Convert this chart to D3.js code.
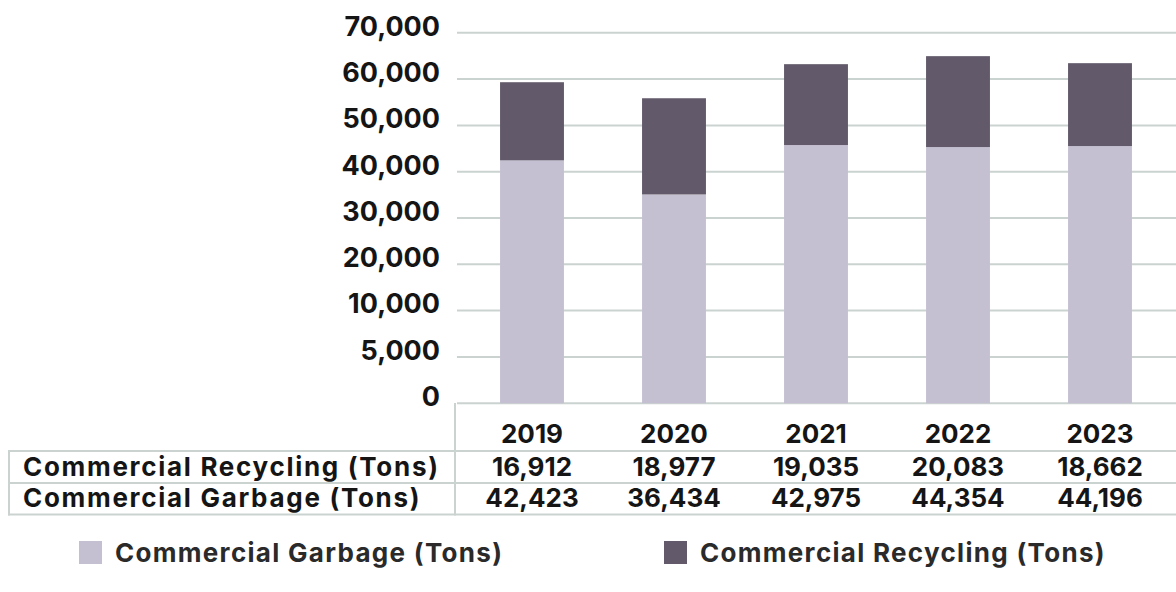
<!DOCTYPE html>
<html>
<head>
<meta charset="utf-8">
<script src="https://cdn.jsdelivr.net/npm/d3@7"></script>
<style>
  html, body { margin: 0; padding: 0; background: #ffffff; }
  svg { display: block; }
  text { font-family: Inter, "Noto Sans", sans-serif; }
</style>
</head>
<body>
<svg id="chart" width="1176" height="592"></svg>
<script>
// ---- data ----
const years = ["2019", "2020", "2021", "2022", "2023"];
// bar heights as drawn in the reference
const garbageBar   = [42446, 35087, 45758, 45325, 45541];
const recyclingBar = [16883, 20779, 17467, 19632, 17901];
// values printed in the data table
const recyclingTable = ["16,912", "18,977", "19,035", "20,083", "18,662"];
const garbageTable   = ["42,423", "36,434", "42,975", "44,354", "44,196"];
const rowLabels = ["Commercial Recycling (Tons)", "Commercial Garbage (Tons)"];
const seriesNames = ["Commercial Garbage (Tons)", "Commercial Recycling (Tons)"];
const yTickValues = [0, 5000, 10000, 20000, 30000, 40000, 50000, 60000, 70000];

// ---- styles ----
const garbageColor = "#c5bfd2";
const recyclingColor = "#625a6a";
const gridColor = "#cbd3d0";
const textColor = "#151515";

const svg = d3.select("#chart");

const x = d3.scaleBand()
  .domain(years)
  .range([461, 1171])
  .paddingInner(0.55)
  .paddingOuter(0.275);

const y = d3.scaleLinear()
  .domain([0, 5000, 10000, 70000])
  .range([403.2, 356.9, 310.6, 32.8]);

// gridlines
svg.append("g")
  .selectAll("line")
  .data(yTickValues)
  .join("line")
  .attr("x1", 457)
  .attr("x2", 1176)
  .attr("y1", d => y(d))
  .attr("y2", d => y(d))
  .attr("stroke", gridColor)
  .attr("stroke-width", 2);

// y axis labels
const yAxis = d3.axisLeft(y)
  .tickValues(yTickValues)
  .tickSize(0)
  .tickPadding(15)
  .tickFormat(d3.format(","));
const gy = svg.append("g").attr("transform", "translate(455,0)").call(yAxis);
gy.select(".domain").remove();
gy.selectAll("text")
  .attr("font-family", "Inter, 'Noto Sans', sans-serif")
  .attr("font-size", 27)
  .attr("font-weight", 700)
  .attr("fill", textColor)
  .attr("dy", null)
  .attr("y", -5)
  .attr("dominant-baseline", "middle");

// stacked bars
const stackData = years.map((yr, i) => ({ year: yr, garbage: garbageBar[i], recycling: recyclingBar[i] }));
const stack = d3.stack().keys(["garbage", "recycling"]);
const layers = stack(stackData);
const colors = { garbage: garbageColor, recycling: recyclingColor };

svg.append("g")
  .selectAll("g")
  .data(layers)
  .join("g")
  .attr("fill", d => colors[d.key])
  .selectAll("rect")
  .data(d => d)
  .join("rect")
  .attr("x", d => x(d.data.year))
  .attr("width", x.bandwidth())
  .attr("y", d => y(d[1]))
  .attr("height", d => y(d[0]) - y(d[1]));

// data table lines
const table = svg.append("g").attr("stroke", gridColor).attr("stroke-width", 2);
const rowLines = [451, 483, 514.5];
table.selectAll("line.h")
  .data(rowLines)
  .join("line")
  .attr("class", "h")
  .attr("x1", 8).attr("x2", 1176)
  .attr("y1", d => d).attr("y2", d => d);
table.append("line").attr("x1", 455).attr("x2", 455).attr("y1", 403).attr("y2", 515.5);
table.append("line").attr("x1", 9).attr("x2", 9).attr("y1", 450).attr("y2", 515.5);

// year headers
svg.append("g")
  .selectAll("text")
  .data(years)
  .join("text")
  .attr("x", d => x(d) + x.bandwidth() / 2)
  .attr("y", 443)
  .attr("text-anchor", "middle")
  .attr("font-size", 26)
  .attr("font-weight", 700)
  .attr("fill", textColor)
  .text(d => d);

// row labels and values
const rows = [recyclingTable, garbageTable];
const rowBaselines = [476, 507];
rows.forEach((vals, r) => {
  svg.append("text")
    .attr("x", 23)
    .attr("y", rowBaselines[r])
    .attr("text-anchor", "start")
    .attr("font-size", 26)
    .attr("font-weight", 700)
    .attr("letter-spacing", 1.7)
    .attr("fill", textColor)
    .text(rowLabels[r]);
  svg.append("g")
    .selectAll("text")
    .data(vals)
    .join("text")
    .attr("x", (d, i) => x(years[i]) + x.bandwidth() / 2)
    .attr("y", rowBaselines[r])
    .attr("text-anchor", "middle")
    .attr("font-size", 26)
    .attr("font-weight", 700)
    .attr("fill", textColor)
    .text(d => d);
});

// legend
const legendX = [79, 664];
const legendColors = [garbageColor, recyclingColor];
const lg = svg.append("g");
seriesNames.forEach((name, i) => {
  lg.append("rect")
    .attr("x", legendX[i]).attr("y", 541)
    .attr("width", 23).attr("height", 23)
    .attr("fill", legendColors[i]);
  lg.append("text")
    .attr("x", legendX[i] + 36)
    .attr("y", 562)
    .attr("font-size", 26)
    .attr("font-weight", 700)
    .attr("letter-spacing", 1.3)
    .attr("fill", "#2a2a2a")
    .text(name);
});
</script>
</body>
</html>
